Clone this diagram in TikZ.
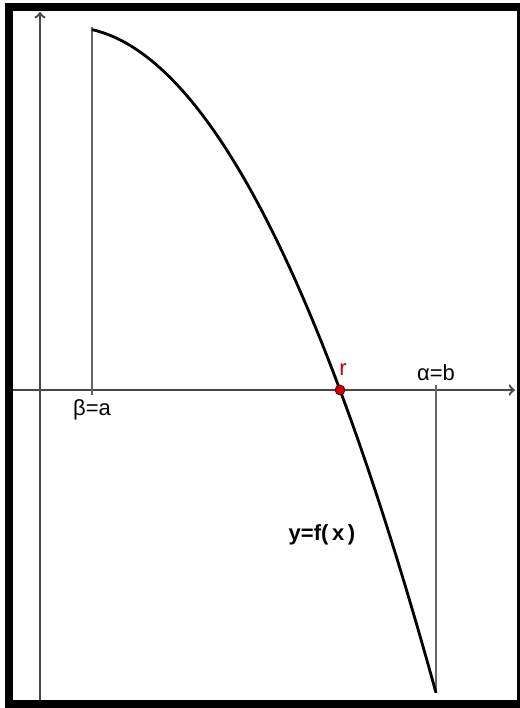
\documentclass[tikz,border=0pt]{standalone}
\usepackage{fontspec}
\setmainfont{Liberation Sans}
\usetikzlibrary{positioning}

\begin{document}
\begin{tikzpicture}[
        x=0.02cm, y=-0.02cm,
        axis/.style={draw=black!72, line width=1.3pt},
        guide/.style={draw=black!60, line width=0.7pt},
        tick/.style={draw=black!60, line width=1.1pt},
        graph/.style={draw=black, line width=1.6pt},
        lbl/.style={font=\fontsize{12.5}{13}\selectfont, inner sep=0pt},
    ]
    % Rahmen
    \useasboundingbox (0,0) rectangle (520,708);
    \fill[white] (0,0) rectangle (520,708);
    \fill[black] (5,3) rectangle (520,708);
    \fill[white] (13,11) rectangle (517,700);

    % Achsen
    \coordinate (xend) at (515,390);
    \coordinate (yend) at (40,12);
    \draw[axis, ->] (13,390) -- (xend);
    \draw[axis, ->] (40,700) -- (yend);

    % Punkte
    \coordinate (a) at (92,390);
    \coordinate (fa) at (92,27);
    \coordinate (b) at (436,390);
    \coordinate (fb) at (436,693);
    \coordinate (r) at (340,390);

    % Hilfslinien
    \draw[guide] (a) -- (fa);
    \draw[guide] (b) -- (fb);
    \draw[tick] ([yshift=3pt]a) -- ([yshift=-3pt]a);
    \draw[tick] ([yshift=3pt]b) -- ([yshift=-3pt]b);

    % Graph
    \draw[graph, domain=92:436, samples=80, smooth]
        plot (\x, {27+49.43*((\x-69)/100)^2});

    % Nullstelle
    \fill[red!80!black, draw=red!40!black, line width=0.4pt] (r) circle (5);

    % Beschriftungen
    \node[lbl] (la) at (92,410) {β=a};
    \node[lbl] (lb) at (436,373) {α=b};
    \node[lbl, text=red!75!black] (lr) at (343,370) {r};
    \node[lbl, font=\fontsize{12.5}{13}\selectfont\bfseries] (lf) at (322,535) {y=f(\,x\,)};

\end{tikzpicture}
\end{document}
